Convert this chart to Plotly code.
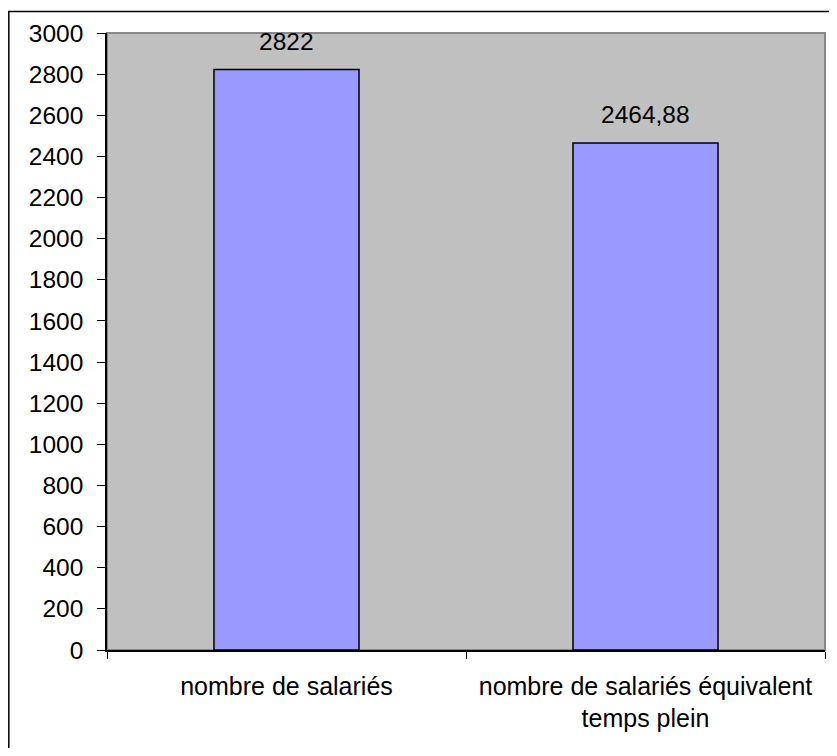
import plotly.graph_objects as go

categories = ["nombre de salariés", "nombre de salariés équivalent<br>temps plein"]
values = [2822, 2464.88]
value_labels = ["2822", "2464,88"]
y_ticks = list(range(0, 3001, 200))

# page has an 8px body margin; figure is placed at (8, 8)
OFF = 8
W, H = 821, 740
ML, MT = 107 - OFF, 33 - OFF
MR = W - (825 - OFF)
MB = H - (650 - OFF)
PW, PH = W - ML - MR, H - MT - MB

def px_x(p):
    return (p - OFF - ML) / PW

def px_y(p):
    return (H - MB - (p - OFF)) / PH

FONT = "Liberation Sans, Arial, sans-serif"
FS = 24.5

fig = go.Figure()
fig.add_trace(go.Bar(
    x=categories, y=values,
    marker=dict(color="#9999FF", line=dict(color="#000000", width=1.5)),
    width=0.404,
    hoverinfo="skip",
))

for c, v, t in zip(categories, values, value_labels):
    fig.add_annotation(x=c, y=v, text=t, showarrow=False, yanchor="bottom",
                       yshift=13, font=dict(family=FONT, size=FS, color="#000000"))

# plot-area border (gray, top/right)
fig.add_shape(type="rect", xref="paper", yref="paper", x0=0, x1=1, y0=0, y1=1,
              line=dict(color="#888888", width=2), layer="below")
# outer chart border (right and bottom edges fall outside the picture)
fig.add_shape(type="rect", xref="paper", yref="paper",
              x0=px_x(8.8), x1=px_x(870), y0=px_y(790), y1=px_y(11.5),
              line=dict(color="#000000", width=1.5))

fig.update_layout(
    width=W, height=H,
    margin=dict(l=ML, r=MR, t=MT, b=MB, pad=0),
    paper_bgcolor="#FFFFFF", plot_bgcolor="#C0C0C0",
    font=dict(family=FONT, size=FS, color="#000000"),
    showlegend=False,
    xaxis=dict(
        type="category", range=[-0.5, 1.5], tickson="boundaries",
        ticks="outside", ticklen=7, tickwidth=1, tickcolor="#000000",
        showline=True, linecolor="#000000", linewidth=1.5,
        showgrid=False, zeroline=False,
        ticklabelstandoff=13,
        tickfont=dict(family=FONT, size=25, color="#000000"),
    ),
    yaxis=dict(
        range=[0, 3000], tickvals=y_ticks, ticktext=[str(v) for v in y_ticks],
        ticks="outside", ticklen=8, tickwidth=1, tickcolor="#000000",
        showline=True, linecolor="#000000", linewidth=1.5,
        showgrid=False, zeroline=False,
        ticklabelstandoff=9,
        tickfont=dict(family=FONT, size=FS, color="#000000"),
    ),
)

fig.write_html("out.html")
